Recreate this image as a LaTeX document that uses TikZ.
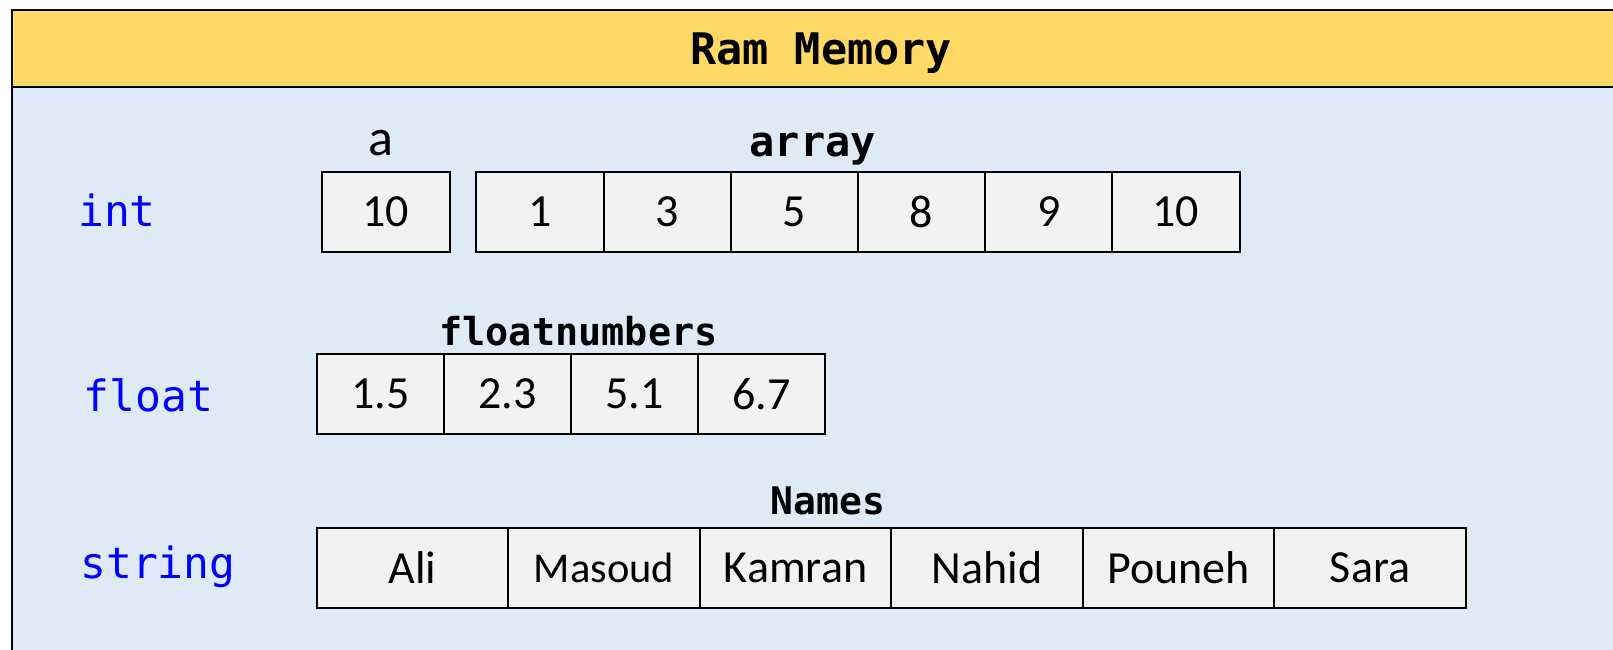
\documentclass[tikz,border=0pt]{standalone}
\usepackage{fontspec}
\setmainfont{Carlito}
\newfontfamily\monofont{DejaVu Sans Mono}
\definecolor{hdrc}{HTML}{FFD966}
\definecolor{bodyc}{HTML}{DEEBF7}
\definecolor{cellc}{HTML}{F2F2F2}
\definecolor{typec}{HTML}{0000FF}
\begin{document}
\begin{tikzpicture}[x=1pt,y=-1pt,
  cell/.style={draw, line width=2pt, fill=cellc, minimum height=80.2pt, inner sep=0pt,
    font=\fontsize{46}{50}\selectfont},
  typelbl/.style={text=typec, inner sep=0pt, font=\monofont\fontsize{43}{48}\selectfont},
  varlbl/.style={inner sep=0pt, font=\monofont\bfseries\fontsize{40}{44}\selectfont},
  frameline/.style={line width=2pt}
]
\useasboundingbox (0,0) rectangle (1613,650);
\clip (0,0) rectangle (1613,650);
% frame
\fill[bodyc] (12,10) rectangle (1630,670);
\fill[hdrc] (12,10) rectangle (1630,87.4);
\draw[frameline] (12,670) -- (12,10) -- (1630,10);
\draw[frameline] (12,87.4) -- (1630,87.4);
\node[inner sep=0pt, font=\monofont\bfseries\fontsize{43.5}{48}\selectfont] (title) at (821,53.5) {Ram Memory};

% type labels
\node[typelbl] (tint) at (117,210) {int};
\node[typelbl] (tfloat) at (148.5,395) {float};
\node[typelbl] (tstring) at (158,567) {string};

% int row
\node[inner sep=0pt, font=\fontsize{52}{56}\selectfont] (la) at (380.6,143) {a};
\node[cell, minimum width=127.5pt] (a) at (385.8,212) {10};
\node[varlbl, font=\monofont\bfseries\fontsize{42}{46}\selectfont] (larray) at (812.7,149) {array};
\foreach \t [count=\i] in {1,3,5,8,9,10}
  \node[cell, minimum width=127.2pt] (ar\i) at ({476.3+127.2*(\i-0.5)},212) {\t};

% float row
\node[varlbl, font=\monofont\bfseries\fontsize{38.5}{42}\selectfont] (lfloat) at (578.5,331) {floatnumbers};
\foreach \t [count=\i] in {1.5,2.3,5.1,6.7}
  \node[cell, minimum width=127.05pt] (fl\i) at ({316.8+127.05*(\i-0.5)},394) {\t};

% string row
\node[varlbl, font=\monofont\bfseries\fontsize{38}{42}\selectfont] (lnames) at (828,501) {Names};
\foreach \t/\fs [count=\i] in {Ali/46,Masoud/42.5,Kamran/46,Nahid/46,Pouneh/46,Sara/46}
  \node[cell, minimum width=191.5pt, font=\fontsize{\fs}{50}\selectfont] (nm\i) at ({316.8+191.5*(\i-0.5)},568) {\t};
\end{tikzpicture}
\end{document}
